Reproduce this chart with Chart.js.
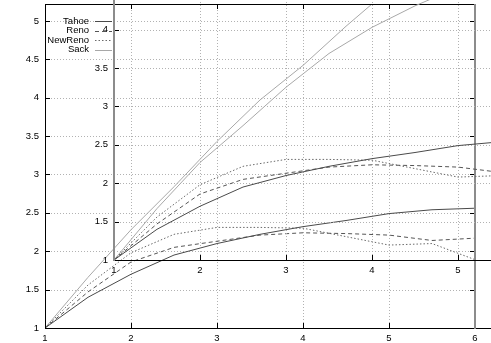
<!DOCTYPE html>
<html><head><meta charset="utf-8">
<script src="https://cdn.jsdelivr.net/npm/chart.js@4/dist/chart.umd.min.js"></script>
<style>
html,body{margin:0;padding:0;background:#fff;overflow:hidden}
#wrap{position:relative;width:491px;height:343px;overflow:hidden;background:#fff}
#main{position:absolute;left:0;top:0}
#inset{position:absolute;left:69px;top:-68px}
</style></head><body>
<div id="wrap"><canvas id="main" width="491" height="343"></canvas><canvas id="inset" width="491" height="343"></canvas></div>
<script>
const xValues   = [1, 1.5, 2, 2.5, 3, 3.5, 4, 4.5, 5, 5.5, 6];
const tahoe     = [1, 1.40, 1.70, 1.95, 2.10, 2.22, 2.32, 2.40, 2.49, 2.54, 2.56];
const reno      = [1, 1.47, 1.86, 2.05, 2.13, 2.21, 2.24, 2.23, 2.21, 2.14, 2.17];
const newReno   = [1, 1.56, 1.98, 2.22, 2.31, 2.31, 2.30, 2.19, 2.08, 2.10, 1.89];
const sack      = [1, 1.66, 2.28, 2.84, 3.43, 3.97, 4.42, 4.93, 5.41, 5.90, 6.40];
const insetSack = [1, 1.67, 2.27, 2.75, 3.25, 3.69, 4.03, 4.31, 4.55, 4.75, 4.95];
const seriesNames = ['Tahoe', 'Reno', 'NewReno', 'Sack'];
const xTicks = [1, 2, 3, 4, 5, 6];
const yTicks = [1, 1.5, 2, 2.5, 3, 3.5, 4, 4.5, 5];
const xRange = [1, 6];
const yRange = [1, 5.22];

const FONT = {family: '"Liberation Sans", Arial, sans-serif', size: 9.5};
const styles = [
  {borderColor: '#4a4a4a', borderDash: []},
  {borderColor: '#555555', borderDash: [4, 3]},
  {borderColor: '#6a6a6a', borderDash: [1.5, 2]},
  {borderColor: '#a8a8a8', borderDash: []}
];

function toPts(vals) { return xValues.map((x, i) => ({x: x, y: vals[i]})); }

function framePlugin(leftGray, withLegend) {
  return {
    id: 'frame',
    beforeDatasetsDraw(chart) {
      const {ctx, chartArea: a, scales: {x, y}} = chart;
      ctx.save();
      ctx.strokeStyle = '#b2b2b2'; ctx.lineWidth = 1; ctx.setLineDash([1, 2]);
      xTicks.forEach(v => {
        if (v <= x.min || v >= x.max) return;
        const px = Math.round(x.getPixelForValue(v)) + 0.5;
        ctx.beginPath(); ctx.moveTo(px, a.top); ctx.lineTo(px, a.bottom); ctx.stroke();
      });
      yTicks.forEach(v => {
        if (v <= y.min || v >= y.max) return;
        const py = Math.round(y.getPixelForValue(v)) + 0.5;
        ctx.beginPath(); ctx.moveTo(a.left, py); ctx.lineTo(a.right, py); ctx.stroke();
      });
      ctx.restore();
    },
    afterDatasetsDraw(chart) {
      const {ctx, chartArea: a, scales: {x, y}} = chart;
      const L = Math.round(a.left), R = Math.round(a.right), T = Math.round(a.top), B = Math.round(a.bottom);
      ctx.save();
      ctx.setLineDash([]);
      ctx.lineWidth = 1; ctx.strokeStyle = '#000';
      ctx.beginPath();
      ctx.moveTo(L, T + 0.5); ctx.lineTo(R, T + 0.5);
      ctx.moveTo(L, B + 0.5); ctx.lineTo(R + 16, B + 0.5);
      if (!leftGray) { ctx.moveTo(L + 0.5, T); ctx.lineTo(L + 0.5, B + 1); }
      // ticks
      xTicks.forEach(v => {
        if (v <= x.min || v >= x.max) return;
        const px = Math.round(x.getPixelForValue(v)) + 0.5;
        ctx.moveTo(px, B); ctx.lineTo(px, B - 5);
        ctx.moveTo(px, T); ctx.lineTo(px, T + 5);
      });
      yTicks.forEach(v => {
        if (v <= y.min || v >= y.max) return;
        const py = Math.round(y.getPixelForValue(v)) + 0.5;
        ctx.moveTo(L, py); ctx.lineTo(L + 5, py);
        ctx.moveTo(R, py); ctx.lineTo(R - 5, py);
      });
      ctx.stroke();
      ctx.lineWidth = 2; ctx.strokeStyle = '#8c8c8c';
      ctx.beginPath();
      ctx.moveTo(R, T); ctx.lineTo(R, B + 1);
      if (leftGray) { ctx.moveTo(L, T - 200); ctx.lineTo(L, B + 1); }
      ctx.stroke();
      if (withLegend) {
        ctx.font = FONT.size + 'px ' + FONT.family;
        ctx.textAlign = 'right'; ctx.textBaseline = 'middle'; ctx.fillStyle = '#000';
        chart.data.datasets.forEach((ds, i) => {
          const yy = 21 + i * 9.6;
          ctx.fillText(ds.label, 89, yy);
          ctx.save();
          ctx.lineWidth = 1; ctx.strokeStyle = ds.borderColor; ctx.setLineDash(ds.borderDash || []);
          ctx.beginPath(); ctx.moveTo(95, Math.round(yy) + 0.5); ctx.lineTo(112, Math.round(yy) + 0.5); ctx.stroke();
          ctx.restore();
        });
      }
      ctx.restore();
    }
  };
}

function makeChart(id, sackVals, leftGray, withLegend) {
  const seriesVals = [tahoe, reno, newReno, sackVals];
  return new Chart(document.getElementById(id), {
    type: 'line',
    data: {
      datasets: seriesNames.map((name, i) => ({
        label: name,
        data: toPts(seriesVals[i]),
        borderColor: styles[i].borderColor,
        borderDash: styles[i].borderDash,
        borderWidth: 1,
        pointRadius: 0,
        tension: 0,
        fill: false
      }))
    },
    options: {
      responsive: false,
      animation: false,
      events: [],
      layout: {padding: {left: 0, top: 4, right: 16, bottom: 0}},
      plugins: {legend: {display: false}, tooltip: {enabled: false}},
      scales: {
        x: {
          type: 'linear', min: xRange[0], max: xRange[1],
          grid: {display: false, drawTicks: false}, border: {display: false},
          afterBuildTicks: s => { s.ticks = xTicks.map(v => ({value: v})); },
          afterFit: s => { s.height = 15; s.paddingLeft = 0; s.paddingRight = 0; },
          ticks: {padding: 5, color: '#000', font: FONT, maxRotation: 0, autoSkip: false, callback: v => String(v)}
        },
        y: {
          type: 'linear', min: yRange[0], max: yRange[1],
          grid: {display: false, drawTicks: false}, border: {display: false},
          afterBuildTicks: s => { s.ticks = yTicks.map(v => ({value: v})); },
          afterFit: s => { s.width = 45; s.paddingTop = 0; s.paddingBottom = 0; },
          ticks: {padding: 6, color: '#000', font: FONT, autoSkip: false, callback: v => String(v)}
        }
      }
    },
    plugins: [framePlugin(leftGray, withLegend)]
  });
}

makeChart('main', sack, false, true);
makeChart('inset', insetSack, true, false);
</script>
</body></html>
